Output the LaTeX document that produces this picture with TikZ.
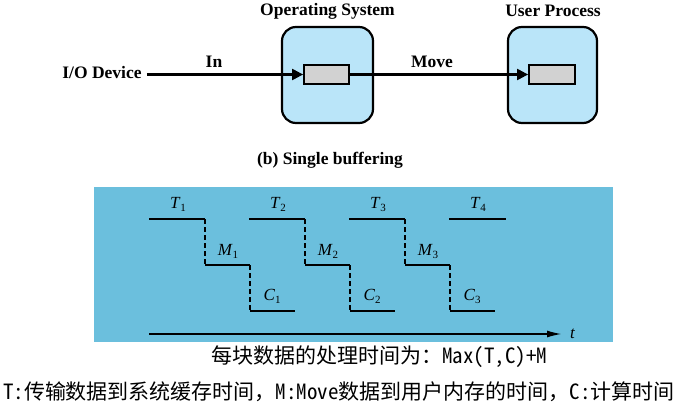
\documentclass[tikz,border=0pt]{standalone}
\usepackage{fontspec}
\setmainfont{Liberation Serif}
\newfontfamily\cjk{Noto Sans CJK SC}
\newfontfamily\cjkh[RawFeature=+hwid]{Noto Sans CJK SC}
\newcommand{\hw}[1]{{\cjkh #1}}
\usetikzlibrary{arrows.meta}
\definecolor{boxblue}{HTML}{BAE5F9}
\definecolor{bufgray}{HTML}{D2D2D2}
\definecolor{panel}{HTML}{6BBFDD}
\newcommand{\slab}[2]{\textit{#1}\raisebox{-3pt}{\fontsize{11}{11}\selectfont #2}}
\tikzset{
  lbl/.style={font=\fontsize{17.5}{18}\selectfont\bfseries, inner sep=0pt},
  procbox/.style={draw=black, line width=2.2pt, fill=boxblue, rounded corners=14pt, minimum height=96pt, inner sep=0pt},
  bufbox/.style={draw=black, line width=1.8pt, fill=bufgray, minimum width=45pt, minimum height=19pt, inner sep=0pt},
  flow/.style={line width=2.2pt, -{Triangle[length=11pt,width=11pt]}},
  seg/.style={line width=2.4pt},
  dseg/.style={line width=2.2pt, dash pattern=on 5pt off 3pt},
  tlab/.style={font=\fontsize{17}{17}\selectfont, inner sep=0pt},
  cjktxt/.style={font=\cjk\fontsize{21}{21}\selectfont, inner sep=0pt}
}
\begin{document}
\begin{tikzpicture}[x=1pt,y=-1pt]
\useasboundingbox (0,0) rectangle (691,412);
% top part
\node[lbl] (io) at (102,73) {I/O Device};
\node[procbox, minimum width=91pt] (os) at (327.5,75) {};
\node[procbox, minimum width=89pt] (up) at (552.5,75) {};
\node[lbl] (ost) at (327.5,11) {Operating System};
\node[lbl] (upt) at (553,11) {User Process};
\node[bufbox] (b1) at (326.5,74.5) {};
\node[bufbox, minimum width=46pt] (b2) at (552,74.5) {};
\coordinate (iostart) at ([xshift=5pt]io.east |- b1.west);
\draw[flow] (iostart) -- (b1.west);
\draw[flow] (b1.east) -- (b2.west);
\node[lbl] (in) at (214,62) {In};
\node[lbl] (mv) at (432,62) {Move};
\node[lbl] (cap) at (330,160) {(b) Single buffering};
% timing panel
\fill[panel] (94,187) rectangle (613,342);
\foreach \k [evaluate=\k as \o using 100*(\k-1)] in {1,2,3} {
  \coordinate (t\k a) at (149+\o,219);
  \coordinate (t\k b) at (205+\o,219);
  \coordinate (m\k a) at (205+\o,265);
  \coordinate (m\k b) at (250+\o,265);
  \coordinate (c\k a) at (250+\o,311);
  \coordinate (c\k b) at (295+\o,311);
  \draw[seg] (t\k a) -- (t\k b);
  \draw[dseg] (t\k b) -- (m\k a);
  \draw[seg] (m\k a) -- (m\k b);
  \draw[dseg] (m\k b) -- (c\k a);
  \draw[seg] (c\k a) -- (c\k b);
  \node[tlab] (tl\k) at (178+\o,204) {\slab{T}{\k}};
  \node[tlab] (ml\k) at (228+\o,251) {\slab{M}{\k}};
  \node[tlab] (cl\k) at (272+\o,296) {\slab{C}{\k}};
}
\coordinate (t4a) at (449,219);
\coordinate (t4b) at (506,219);
\draw[seg] (t4a) -- (t4b);
\node[tlab] (tl4) at (478,204) {\slab{T}{4}};
\coordinate (ax0) at (149,334);
\coordinate (ax1) at (562,334);
\draw[line width=1.8pt, -{Latex[length=15pt,width=7pt]}] (ax0) -- (ax1);
\node[tlab, anchor=west] (tt) at (570,334) {\textit{t}};
% texts
\node[cjktxt] (l1) at (379,357) {每块数据的处理时间为：\hw{Max(T,C)+M}};
\node[cjktxt] (l2) at (339,392) {\hw{T:}传输数据到系统缓存时间，\hw{M:Move}数据到用户内存的时间，\hw{C:}计算时间};
\end{tikzpicture}
\end{document}
